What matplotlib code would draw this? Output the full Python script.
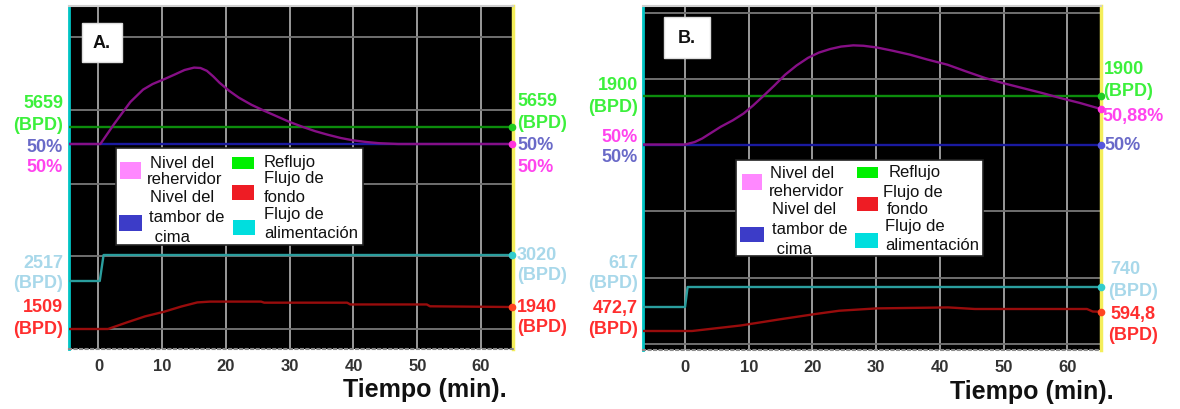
import matplotlib
matplotlib.use("Agg")
import matplotlib.pyplot as plt
from matplotlib.patches import Rectangle

plt.rcParams['font.family'] = ['Liberation Sans', 'DejaVu Sans']

# ---------------- panel A: trend data ----------------
time_reb_a = [-4.7, 0.3, 2.5, 5.0, 7.0, 8.5, 10.3, 12.0, 13.5, 15.0, 16.0, 17.0,
              18.0, 19.0, 20.5, 22.0, 24.0, 26.0, 28.0, 30.0, 32.0, 34.0, 36.0,
              38.0, 40.0, 42.0, 44.0, 47.0, 64.9]
reb_level_a = [50.0, 50.0, 50.51, 51.05, 51.36, 51.5, 51.62, 51.74, 51.85, 51.91,
               51.9, 51.83, 51.69, 51.53, 51.33, 51.16, 50.98, 50.83, 50.69,
               50.55, 50.43, 50.32, 50.23, 50.15, 50.09, 50.05, 50.02, 50.0, 50.0]
time_flat_a = [-4.7, 64.9]
reflux_a = [5659, 5659]
drum_level_a = [50, 50]
time_feed_a = [-4.7, 0.2, 0.8, 64.9]
feed_a = [2517, 2517, 3020, 3020]
time_bottoms_a = [-4.7, 1.5, 4.5, 7.3, 10.3, 13.0, 15.5, 17.5, 25.5, 26.0,
                  39.0, 39.5, 51.5, 52.0, 64.9]
bottoms_a = [1509, 1509, 1640, 1756, 1848, 1950, 2030, 2046, 2046, 2025,
             2025, 1990, 1990, 1954, 1940]

# ---------------- panel B: trend data ----------------
time_reb_b = [-6.6, 0.0, 1.5, 2.7, 4.0, 5.6, 7.5, 9.2, 10.7, 12.2, 14.0, 15.7,
              17.5, 19.3, 21.0, 22.8, 24.5, 26.4, 28.0, 30.0, 32.5, 35.3,
              38.0, 41.2, 44.0, 47.1, 50.0, 53.0, 56.0, 59.0, 62.0, 65.3]
reb_level_b = [50.0, 50.0, 50.06, 50.15, 50.28, 50.44, 50.6, 50.77, 50.97,
               51.19, 51.46, 51.73, 51.96, 52.15, 52.28, 52.37, 52.43, 52.46,
               52.45, 52.41, 52.33, 52.23, 52.11, 51.98, 51.82, 51.65, 51.52,
               51.40, 51.28, 51.15, 51.03, 50.88]
time_flat_b = [-6.6, 65.3]
reflux_b = [1900, 1900]
drum_level_b = [50, 50]
time_feed_b = [-6.6, 0.0, 0.4, 65.3]
feed_b = [617, 617, 740, 740]
time_bottoms_b = [-6.6, 1.1, 8.8, 14.7, 20.6, 24.2, 30.1, 41.3, 45.5, 63.1,
                  64.0, 65.3]
bottoms_b = [472.7, 472.7, 508, 545.5, 581, 601, 615.8, 622, 612, 612,
             596, 594.8]

time_ticks = [0, 10, 20, 30, 40, 50, 60]
legend_names = ["Nivel del\nrehervidor", "Nivel del\ntambor de\n cima",
                "Reflujo", "Flujo de\nfondo", "Flujo de\nalimentación"]
x_title = "Tiempo (min)."

# ---------------- colours ----------------
C_REFLUX, C_DRUM, C_REB, C_FEED, C_BOT = "#0c8c0c", "#1a1aa0", "#860f86", "#2a9e9e", "#980c0c"
L_GREEN, L_BLUE, L_MAG, L_CYAN, L_RED = "#3cf03c", "#6a6ac8", "#ff44ee", "#a8d8ea", "#ff2e2e"
K_PINK, K_BLUE, K_GREEN, K_RED, K_CYAN = "#ff88ff", "#3c3cc8", "#00f000", "#ee1c24", "#00dede"

W, H = 1180, 409
fig = plt.figure(figsize=(W / 100, H / 100), dpi=100)


def fmt(v):
    return f"{v:g}".replace(".", ",")


def panel(left, top, right, bottom, xlim, hgrid_px):
    ax = fig.add_axes([left / W, 1 - bottom / H, (right - left) / W, (bottom - top) / H])
    ax.set_facecolor("black")
    ax.set_xlim(*xlim)
    ax.set_ylim(0, 1)
    ax.set_xticks(time_ticks)
    ax.set_xticklabels([str(t) for t in time_ticks], fontsize=12, fontweight="bold",
                       color="#333333")
    ax.tick_params(axis="x", length=0, pad=7)
    ax.set_yticks([(bottom - y) / (bottom - top) for y in hgrid_px])
    ax.tick_params(axis="y", length=0, labelleft=False)
    ax.grid(True, axis="x", color="#9a9a9a", lw=1.4)
    ax.grid(True, axis="y", color="#707070", lw=1.4)
    ax.set_axisbelow(True)
    ax.spines["left"].set_color("#00c4c4")
    ax.spines["left"].set_linewidth(2)
    ax.spines["right"].set_color("#f4ee5a")
    ax.spines["right"].set_linewidth(2.5)
    ax.spines["top"].set_color("#cfcfcf")
    ax.spines["top"].set_linewidth(1.5)
    ax.spines["bottom"].set_color("#8a8a8a")
    ax.spines["bottom"].set_linestyle(":")
    ax.spines["bottom"].set_linewidth(1.5)
    return ax


def pen(ax, t, v, ref, frac, span, color, dot):
    """One trend pen with its own vertical scale: `ref` sits at axes fraction `frac`."""
    tw = ax.twinx()
    lo = ref - frac * span
    tw.set_ylim(lo, lo + span)
    tw.set_axis_off()
    tw.plot(t, v, color=color, lw=1.7, solid_joinstyle="round")
    if dot:
        tw.plot([t[-1]], [v[-1]], "o", ms=4.5, color=dot, clip_on=False, zorder=5)
    return tw


# ---- panel A ----
axA = panel(68.5, 6, 512.5, 349, (-4.7, 64.94), [37, 110, 184, 256, 329])
pen(axA, time_flat_a, reflux_a, reflux_a[0], (349 - 127) / 343, 1000, C_REFLUX, "#22cc22")
pen(axA, time_flat_a, drum_level_a, 50, (349 - 144) / 343, 343 / 40, C_DRUM, None)
pen(axA, time_reb_a, reb_level_a, 50, (349 - 144) / 343, 343 / 40, C_REB, "#ff33dd")
pen(axA, time_feed_a, feed_a, feed_a[0], (349 - 281) / 343, 343 * 503 / 26, C_FEED, "#33cccc")
pen(axA, time_bottoms_a, bottoms_a, bottoms_a[0], (349 - 329) / 343, 343 * 19.6, C_BOT, "#ff4422")

# ---- panel B ----
axB = panel(643, 6, 1101, 350, (-6.6, 65.3), [13, 79, 145, 211, 278, 344])
pen(axB, time_flat_b, reflux_b, reflux_b[0], (350 - 95.5) / 344, 1000, C_REFLUX, "#22cc22")
pen(axB, time_flat_b, drum_level_b, 50, (350 - 144.5) / 344, 344 / 40.3, C_DRUM, "#5555dd")
pen(axB, time_reb_b, reb_level_b, 50, (350 - 144.5) / 344, 344 / 40.3, C_REB, "#ff33dd")
pen(axB, time_feed_b, feed_b, feed_b[0], (350 - 307) / 344, 344 * 6.15, C_FEED, "#33cccc")
pen(axB, time_bottoms_b, bottoms_b, bottoms_b[0], (350 - 331) / 344, 344 * 6.33, C_BOT, "#ff4422")

# ---- overlay in pixel coordinates for annotations ----
ov = fig.add_axes([0, 0, 1, 1], zorder=10)
ov.set_xlim(0, W)
ov.set_ylim(H, 0)
ov.set_axis_off()


def label(x, y, s, color, ha):
    ov.text(x, y, s, color=color, ha=ha, va="center", fontsize=13, fontweight="bold")


# side labels, panel A
label(63, 103, fmt(reflux_a[0]), L_GREEN, "right")
label(63, 125, "(BPD)", L_GREEN, "right")
label(63, 147, f"{fmt(drum_level_a[0])}%", L_BLUE, "right")
label(63, 168, f"{fmt(reb_level_a[0])}%", L_MAG, "right")
label(63, 263, fmt(feed_a[0]), L_CYAN, "right")
label(63, 284, "(BPD)", L_CYAN, "right")
label(63, 308, fmt(bottoms_a[0]), L_RED, "right")
label(63, 329, "(BPD)", L_RED, "right")
label(517, 102, fmt(reflux_a[-1]), L_GREEN, "left")
label(517, 123, "(BPD)", L_GREEN, "left")
label(517, 146, f"{fmt(drum_level_a[-1])}%", L_BLUE, "left")
label(517, 167, f"{fmt(reb_level_a[-1])}%", L_MAG, "left")
label(517, 255, fmt(feed_a[-1]), L_CYAN, "left")
label(517, 276, "(BPD)", L_CYAN, "left")
label(517, 307, fmt(bottoms_a[-1]), L_RED, "left")
label(517, 327, "(BPD)", L_RED, "left")

# side labels, panel B
label(638, 85, fmt(reflux_b[0]), L_GREEN, "right")
label(638, 108, "(BPD)", L_GREEN, "right")
label(638, 137, f"{fmt(reb_level_b[0])}%", L_MAG, "right")
label(638, 157, f"{fmt(drum_level_b[0])}%", L_BLUE, "right")
label(638, 263, fmt(feed_b[0]), L_CYAN, "right")
label(638, 283, "(BPD)", L_CYAN, "right")
label(638, 309, fmt(bottoms_b[0]), L_RED, "right")
label(638, 329, "(BPD)", L_RED, "right")
label(1104, 70, fmt(reflux_b[-1]), L_GREEN, "left")
label(1103, 92, "(BPD)", L_GREEN, "left")
label(1102, 116, f"{fmt(reb_level_b[-1])}%", L_MAG, "left")
label(1104, 145, f"{fmt(drum_level_b[-1])}%", L_BLUE, "left")
label(1110, 270, fmt(feed_b[-1]), L_CYAN, "left")
label(1108, 292, "(BPD)", L_CYAN, "left")
label(1110, 314, fmt(bottoms_b[-1]), L_RED, "left")
label(1108, 336, "(BPD)", L_RED, "left")

# x-axis titles
ov.text(507, 390, x_title, ha="right", va="center", fontsize=18, fontweight="bold", color="#111111")
ov.text(1114, 392, x_title, ha="right", va="center", fontsize=18, fontweight="bold", color="#111111")

# panel tags
for (x0, y0, x1, y1, tag) in [(82, 23, 122, 62, "A."), (664, 17, 710, 58, "B.")]:
    ov.add_patch(Rectangle((x0, y0), x1 - x0, y1 - y0, facecolor="white", edgecolor="#dddddd", lw=1))
    ov.text((x0 + x1) / 2, (y0 + y1) / 2 + 1, tag, ha="center", va="center",
            fontsize=13, fontweight="bold", color="#111111")


# legends
def legend(box, swatches, lines):
    x0, y0, x1, y1 = box
    ov.add_patch(Rectangle((x0, y0), x1 - x0, y1 - y0, facecolor="white", edgecolor="#222222", lw=1.2))
    for (sx0, sy0, sx1, sy1, c) in swatches:
        ov.add_patch(Rectangle((sx0, sy0), sx1 - sx0, sy1 - sy0, facecolor=c, edgecolor="none"))
    for (s, x, y) in lines:
        ov.text(x, y, s, ha="left", va="center", fontsize=12, color="#111111")


def split(name):
    return name.split("\n")


reb_l, drum_l, refl_l, bot_l, feed_l = [split(n) for n in legend_names]

legend((116, 148, 363, 245),
       [(120, 162, 141, 179, K_PINK), (119, 215, 142, 231, K_BLUE),
        (232, 157, 254, 169, K_GREEN), (232, 185, 254, 200, K_RED),
        (233, 220, 255, 235, K_CYAN)],
       [(reb_l[0], 150, 163), (reb_l[1], 147, 180),
        (drum_l[0], 150, 198), (drum_l[1], 149, 218), (drum_l[2], 150, 238),
        (refl_l[0], 264, 163), (bot_l[0], 264, 178), (bot_l[1], 264, 197),
        (feed_l[0], 264, 215), (feed_l[1], 264, 233)])

legend((736, 160, 983, 256),
       [(742, 174, 762, 190, K_PINK), (740, 227, 764, 242, K_BLUE),
        (857, 167, 878, 178, K_GREEN), (857, 197, 878, 211, K_RED),
        (855, 233, 878, 248, K_CYAN)],
       [(reb_l[0], 770, 173), (reb_l[1], 769, 192),
        (drum_l[0], 772, 210), (drum_l[1], 772, 230), (drum_l[2], 772, 250),
        (refl_l[0], 889, 173), (bot_l[0], 883, 192), (bot_l[1], 887, 210),
        (feed_l[0], 885, 227), (feed_l[1], 885, 245)])

fig.savefig("out.png", dpi=100)
